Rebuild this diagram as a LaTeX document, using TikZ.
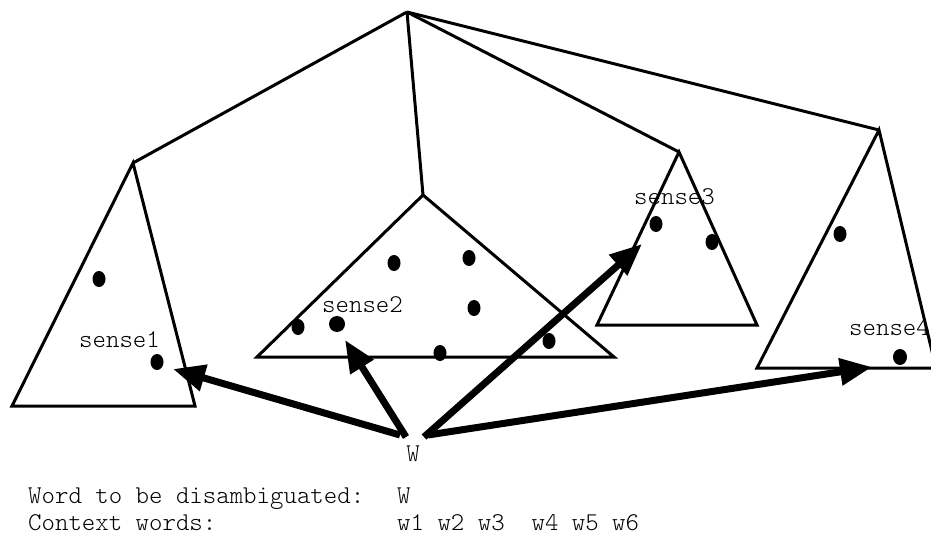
\documentclass[tikz,border=0pt]{standalone}
\usetikzlibrary{arrows.meta}
\tikzset{
  edge/.style={line width=3pt},
  tri/.style={line width=3pt, line join=miter},
  bigarrow/.style={line width=7pt, -{Triangle[length=32pt,width=26pt]}},
  lbl/.style={inner sep=0pt, anchor=base west, font=\fontseries{l}\ttfamily\fontsize{25.6}{27}\selectfont},
  dot/.style={fill=black},
}
\begin{document}
\begin{tikzpicture}[x=1pt,y=-1pt]
\useasboundingbox (0,0) rectangle (931,537);
% root and apexes
\coordinate (root) at (407,12);
\coordinate (a1) at (133,163);
\coordinate (a2) at (423,195);
\coordinate (a3) at (679,152);
\coordinate (a4) at (879,130);
% branches
\draw[edge] (root) -- (a1);
\draw[edge] (root) -- (a2);
\draw[edge] (root) -- (a3);
\draw[edge] (root) -- (a4);
% triangles
\draw[tri] (a1) -- (195,406) -- (12,406) -- cycle;
\draw[tri] (a2) -- (614,357) -- (257,357) -- cycle;
\draw[tri] (a3) -- (757,325) -- (597,325) -- cycle;
\draw[tri] (a4) -- (936,368) -- (757,368) -- cycle;
% dots
\fill[dot] (99,279) ellipse [x radius=6.5pt, y radius=8pt];
\fill[dot] (157,362) ellipse [x radius=6.5pt, y radius=8pt];
\fill[dot] (298,327) ellipse [x radius=6.5pt, y radius=8pt];
\fill[dot] (337,324) ellipse [x radius=8pt, y radius=8pt];
\fill[dot] (394,263) ellipse [x radius=6.5pt, y radius=8pt];
\fill[dot] (469,258) ellipse [x radius=6.5pt, y radius=8pt];
\fill[dot] (474,308) ellipse [x radius=6.5pt, y radius=8pt];
\fill[dot] (440,353) ellipse [x radius=6.5pt, y radius=8pt];
\fill[dot] (549,341) ellipse [x radius=6.5pt, y radius=8pt];
\fill[dot] (656,224) ellipse [x radius=6.5pt, y radius=8pt];
\fill[dot] (712,242) ellipse [x radius=6.5pt, y radius=8pt];
\fill[dot] (840,234) ellipse [x radius=6.5pt, y radius=8pt];
\fill[dot] (900,357) ellipse [x radius=7pt, y radius=8pt];
% labels
\node[lbl] (s1) at (79,347) {sense1};
\node[lbl] (s2) at (322,312) {sense2};
\node[lbl] (s3) at (634,205) {sense3};
\node[lbl] (s4) at (849,335) {sense4};
\node[lbl, anchor=base] (W) at (413,461) {W};
% arrows
\coordinate (b1) at (400,435);
\coordinate (b2) at (406,437);
\coordinate (b3) at (424,437);
\coordinate (b4) at (428,435);
\coordinate (t1) at (173,369);
\coordinate (t2) at (345,340);
\coordinate (t3) at (642,244);
\coordinate (t4) at (872,367);
\draw[bigarrow] (b1) -- (t1);
\draw[bigarrow] (b2) -- (t2);
\draw[bigarrow] (b3) -- (t3);
\draw[bigarrow] (b4) -- (t4);
% bottom text
\node[lbl] (wl) at (28,503) {Word to be disambiguated:};
\node[lbl] (wv) at (397,503) {W};
\node[lbl] (cl) at (28,530) {Context words:};
\node[lbl] (cv) at (397,530) {w1 w2 w3\ \ w4 w5 w6};
\end{tikzpicture}
\end{document}
